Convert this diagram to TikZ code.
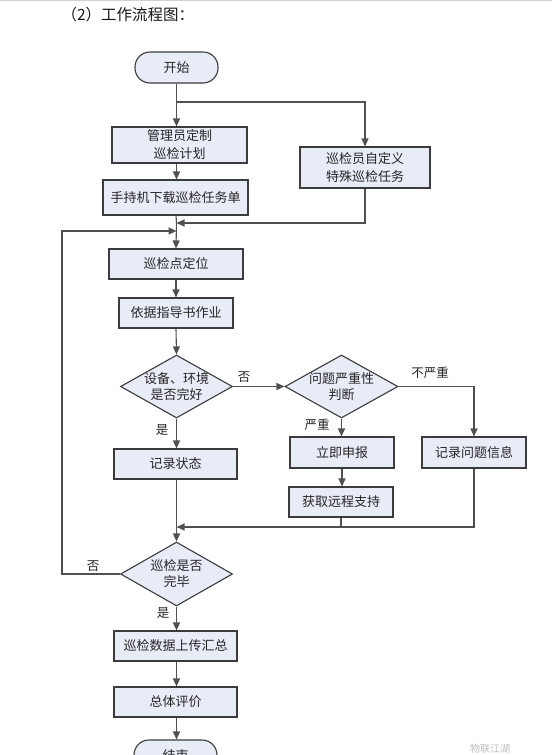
\documentclass[tikz,border=0pt]{standalone}
\usepackage{fontspec}
\newfontfamily\cjk{Noto Sans CJK SC}
\usetikzlibrary{arrows.meta,shapes.geometric}
\definecolor{boxfill}{RGB}{232,236,246}
\definecolor{edge}{RGB}{60,60,60}
\definecolor{linec}{RGB}{80,80,80}
\begin{document}
\begin{tikzpicture}[x=1pt,y=-1pt,
  every node/.style={font=\cjk\fontsize{13}{18}\selectfont, text=black!85},
  proc/.style={draw=edge, line width=1.1pt, fill=boxfill, rectangle, inner sep=0pt, align=center},
  term/.style={proc, rounded corners=15pt},
  dec/.style={draw=edge, line width=1.1pt, fill=boxfill, diamond, inner sep=0pt, aspect=1.8},
  conn/.style={draw=linec, line width=1.1pt},
  arr/.style={conn, -{Triangle[length=8pt,width=7pt]}},
  lbl/.style={font=\cjk\fontsize{12.5}{15}\selectfont}
]
\useasboundingbox (0,0) rectangle (552,755);
\clip (0,0) rectangle (552,755);
\fill[white] (0,0) rectangle (552,755);
\draw[black!18, line width=2pt] (0,0) -- (552,0);

\node[anchor=west, font=\cjk\fontsize{15.5}{18}\selectfont, text=black!90] (title) at (58,15) {（2）工作流程图：};

% nodes
\node[term, minimum width=83pt, minimum height=31pt] (start) at (176.5,67.5) {开始};
\node[proc, minimum width=135pt, minimum height=36pt] (plan) at (179.5,145) {管理员定制\\巡检计划};
\node[proc, minimum width=145pt, minimum height=35pt] (download) at (175.5,197.5) {手持机下载巡检任务单};
\node[proc, minimum width=130pt, minimum height=41pt] (custom) at (365,167.5) {巡检员自定义\\特殊巡检任务};
\node[proc, minimum width=134pt, minimum height=30pt] (locate) at (176,264) {巡检点定位};
\node[proc, minimum width=114pt, minimum height=30pt] (work) at (176,313) {依据指导书作业};
\node[dec, minimum width=112pt, minimum height=63pt,
  label={[align=center, font=\cjk\fontsize{13}{16}\selectfont]center:设备、环境\\是否完好}] (d1) at (176.5,386.5) {};
\node[dec, minimum width=113pt, minimum height=63pt,
  label={[align=center, font=\cjk\fontsize{13}{16}\selectfont]center:问题严重性\\判断}] (d2) at (341.5,386.5) {};
\node[proc, minimum width=104pt, minimum height=31pt] (rissue) at (474,452.5) {记录问题信息};
\node[proc, minimum width=104pt, minimum height=31pt] (report) at (342,452.5) {立即申报};
\node[proc, minimum width=123pt, minimum height=30pt] (rstate) at (175.5,464) {记录状态};
\node[proc, minimum width=104pt, minimum height=30pt] (remote) at (341,502) {获取远程支持};
\node[dec, minimum width=112pt, minimum height=64pt,
  label={[align=center, font=\cjk\fontsize{13}{16}\selectfont]center:巡检是否\\完毕}] (d3) at (176.5,574) {};
\node[proc, minimum width=123pt, minimum height=30pt] (upload) at (175.5,646) {巡检数据上传汇总};
\node[proc, minimum width=123pt, minimum height=30pt] (eval) at (175.5,702) {总体评价};
\node[term, minimum width=83pt, minimum height=31pt] (end) at (175.5,755.5) {结束};

% labels
\node[lbl] (no1) at (244,377) {否};
\node[lbl] (notsev) at (430,373) {不严重};
\node[lbl] (sev) at (317,425) {严重};
\node[lbl] (yes1) at (162,430) {是};
\node[lbl] (no2) at (93,566) {否};
\node[lbl] (yes2) at (163,613) {是};
\node[font=\cjk\fontsize{10}{12}\selectfont, text=black!25] (wm) at (490,749) {物联江湖};

% coordinates
\coordinate (br) at (176.5,102);
\coordinate (m1) at (176.5,223);
\coordinate (m2) at (176.5,231);
\coordinate (lp) at (62,574);
\coordinate (m3) at (176.5,527);

% connectors
\draw[arr] (start.south) -- (start.south |- plan.north);
\draw[arr] (br) -| (custom.north);
\draw[arr] (start.south |- plan.south) -- (start.south |- download.north);
\draw[conn] (locate.north |- download.south) -- (m1);
\draw[arr] (custom.south) |- (m1);
\draw[arr] (d3.west) -- (lp) |- (m2);
\draw[arr] (m1) -- (locate.north);
\draw[arr] (locate.south) -- (work.south |- locate.south) -- (work.north);
\draw[arr] (work.south) -- (d1.north);
\draw[arr] (d1.south) -- (d1.south |- rstate.north);
\draw[arr] (d1.east) -- (d2.west);
\draw[arr] (d2.east) -| (rissue.north);
\draw[arr] (d2.south) -- (d2.south |- report.north);
\draw[arr] (report.south) -- (report.south |- remote.north);
\draw[arr] (rissue.south) |- (m3);
\draw[conn] (remote.south) -- (remote.south |- m3);
\draw[arr] (d1.south |- rstate.south) -- (d3.north);
\draw[arr] (d3.south) -- (d3.south |- upload.north);
\draw[arr] (d3.south |- upload.south) -- (d3.south |- eval.north);
\draw[arr] (d3.south |- eval.south) -- (d3.south |- end.north);
\end{tikzpicture}
\end{document}
